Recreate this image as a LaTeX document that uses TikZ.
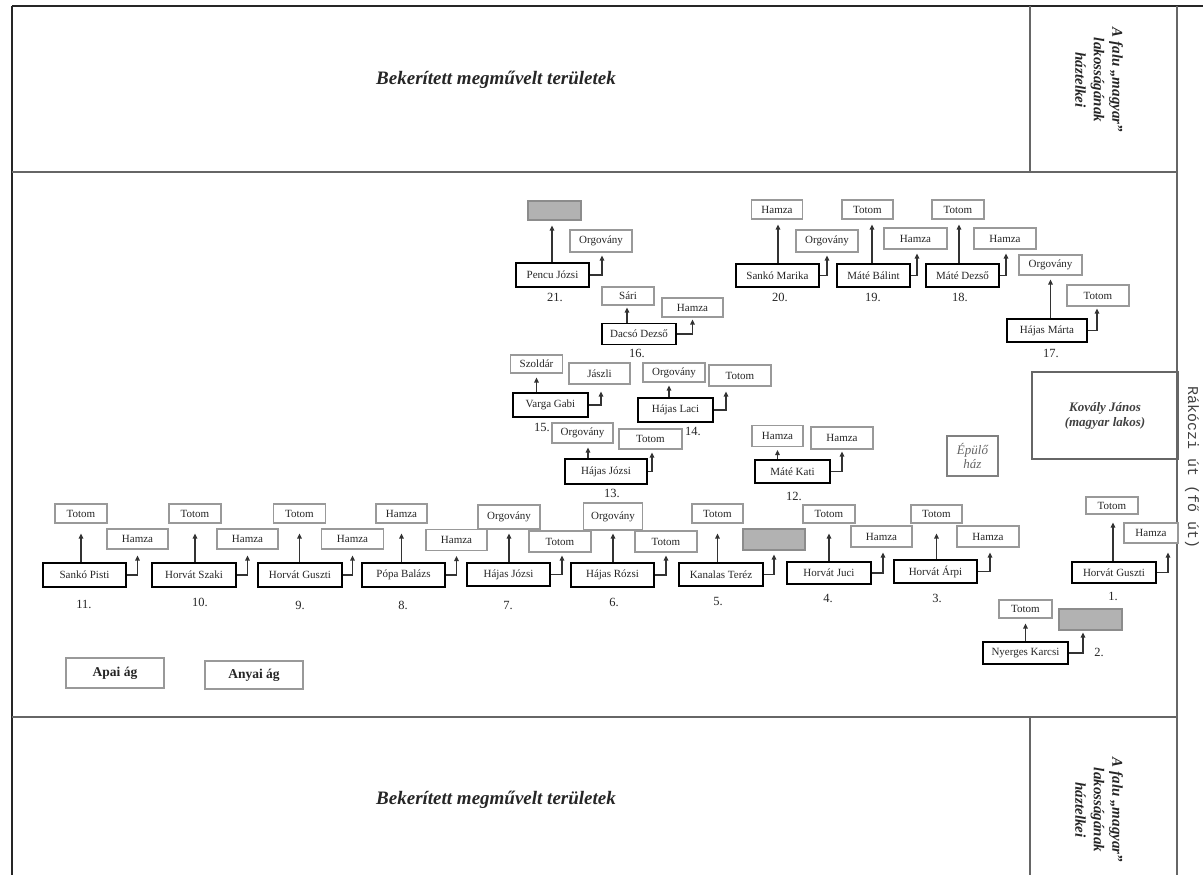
\documentclass[tikz,border=0pt]{standalone}
\usepackage{fontspec}
\setmainfont{Liberation Serif}
\newfontfamily\monof{Liberation Mono}
\usetikzlibrary{arrows.meta}
\newcommand\larr[4]{\path ([xshift=#3pt,yshift=-#4pt]#2.south) coordinate (tmp); \draw[arr] (#1.north -| tmp) -- (tmp);}
\newcommand\rarr[4]{\path ([xshift=#3pt,yshift=-#4pt]#2.south) coordinate (tmp); \draw[arr] (#1.east) -| (tmp);}
\begin{document}
\begin{tikzpicture}[x=1pt,y=-1pt,
 person/.style={draw=black, line width=1.9pt, fill=white, inner sep=0pt, minimum height=23pt, font=\fontsize{11}{12}\selectfont, text=black!85},
 kin/.style={draw=black!40, line width=1.1pt, fill=white, inner sep=0pt, minimum height=20pt, font=\fontsize{11}{12}\selectfont, text=black!85},
 hatchbox/.style={draw=black!45, line width=1.1pt, fill=black!30, inner sep=0pt, minimum height=20pt},
 num/.style={font=\fontsize{12.5}{14}\selectfont, text=black!85, inner sep=0pt},
 arr/.style={draw=black!80, line width=1.2pt, -{Triangle[length=5pt,width=4.5pt]}},
 frame/.style={draw=black!60, line width=1.4pt},
 band/.style={font=\bfseries\itshape\fontsize{19}{22}\selectfont, text=black!85},
 sidet/.style={font=\bfseries\itshape\fontsize{15}{18.5}\selectfont, text=black!85, align=center, rotate=-90},
 legend/.style={draw=black!40, line width=1.2pt, minimum width=98pt, inner sep=0pt, font=\bfseries\fontsize{13.5}{15}\selectfont, text=black!85},
]
\useasboundingbox (0,0) rectangle (1203,875);
\fill[white] (0,0) rectangle (1203,875);

% frame
\draw[line width=2.5pt, black!85] (12,6) -- (1203,6);
\draw[line width=2.5pt, black!85] (12,6) -- (12,875);
\draw[frame] (1177,6) -- (1177,875);
\draw[frame] (12,172) -- (1177,172);
\draw[frame] (1030,6) -- (1030,172);
\draw[frame, line width=2.2pt] (12,717) -- (1177,717);
\draw[frame] (1030,717) -- (1030,875);

\node[band] (field1) at (496,80) {Bekerített megművelt területek};
\node[band] (field2) at (496,800) {Bekerített megművelt területek};
\node[sidet] (side1) at (1099,80) {A falu „magyar”\\lakosságának\\háztelkei};
\node[sidet] (side2) at (1099,810) {A falu „magyar”\\lakosságának\\háztelkei};
\node[font=\monof\fontsize{15}{16}\selectfont, text=black!75, rotate=-90, anchor=base, inner sep=0pt] (road) at (1188,468) {Rákóczi út (fő út)};

% other boxes
\node[draw=black!50, line width=1.1pt, minimum width=51pt, minimum height=40pt, inner sep=0pt, align=center, font=\itshape\fontsize{13}{14}\selectfont, text=black!60] (epulo) at (972.5,456) {Épülő\\ház};
\node[draw=black!60, line width=1.2pt, minimum width=146pt, minimum height=87pt, align=center, font=\bfseries\itshape\fontsize{13}{15}\selectfont, text=black!75] (kovaly) at (1105,415.5) {Kovály János\\(magyar lakos)};
\node[legend, minimum height=30pt] (apai) at (115,673) {Apai ág};
\node[legend, minimum height=28pt] (anyai) at (254,675) {Anyai ág};

% 11
\node[person,minimum width=83pt,minimum height=24pt] (p11) at (84.5,575) {Sankó Pisti};
\node[kin,minimum width=52pt,minimum height=19pt] (l11) at (81,513.5) {Totom};
\node[kin,minimum width=61pt] (r11) at (137.5,539) {Hamza};
\node[num] (n11) at (84,604) {11.};
\larr{p11}{l11}{0}{10} \rarr{p11}{r11}{0}{6}
% 10
\node[person,minimum width=84pt,minimum height=24pt] (p10) at (194,575) {Horvát Szaki};
\node[kin,minimum width=52pt,minimum height=19pt] (l10) at (195,513.5) {Totom};
\node[kin,minimum width=61pt] (r10) at (247.5,539) {Hamza};
\node[num] (n10) at (200,602) {10.};
\larr{p10}{l10}{0}{10} \rarr{p10}{r10}{0}{6}
% 9
\node[person,minimum width=84pt,minimum height=24pt] (p9) at (300,575) {Horvát Guszti};
\node[kin,minimum width=52pt,minimum height=19pt] (l9) at (299.5,513.5) {Totom};
\node[kin,minimum width=62pt] (r9) at (352.5,539) {Hamza};
\node[num] (n9) at (300,605) {9.};
\larr{p9}{l9}{0}{10} \rarr{p9}{r9}{0}{6}
% 8
\node[person,minimum width=83pt,minimum height=24pt] (p8) at (403.5,575) {Pópa Balázs};
\node[kin,minimum width=51pt,minimum height=19pt] (l8) at (401.5,513.5) {Hamza};
\node[kin,minimum width=61pt,minimum height=21pt] (r8) at (456.5,540) {Hamza};
\node[num] (n8) at (403,605) {8.};
\larr{p8}{l8}{0}{10} \rarr{p8}{r8}{0}{5}
% 7
\node[person,minimum width=83pt,minimum height=23pt] (p7) at (508.5,574.5) {Hájas Józsi};
\node[kin,minimum width=62pt,minimum height=24pt] (l7) at (509,517) {Orgovány};
\node[kin,minimum width=62pt,minimum height=21pt] (r7) at (560,541.5) {Totom};
\node[num] (n7) at (508,605) {7.};
\larr{p7}{l7}{0}{4} \rarr{p7}{r7}{2}{3}
% 6
\node[person,minimum width=83pt,minimum height=24pt] (p6) at (612.5,575) {Hájas Rózsi};
\node[kin,minimum width=59pt,minimum height=27pt] (l6) at (613,516.5) {Orgovány};
\node[kin,minimum width=62pt,minimum height=21pt] (r6) at (666,541.5) {Totom};
\node[num] (n6) at (614,602) {6.};
\larr{p6}{l6}{0}{3} \rarr{p6}{r6}{0}{3}
% 5
\node[person,minimum width=84pt,minimum height=23pt] (p5) at (721,574.5) {Kanalas Teréz};
\node[kin,minimum width=51pt,minimum height=19pt] (l5) at (717.5,513.5) {Totom};
\node[hatchbox,minimum width=62pt,minimum height=21pt] (r5) at (774,539.5) {};
\node[num] (n5) at (718,601) {5.};
\larr{p5}{l5}{0}{10} \rarr{p5}{r5}{0}{4}
% 4
\node[person,minimum width=84pt,minimum height=22pt] (p4) at (829,573) {Horvát Juci};
\node[kin,minimum width=52pt,minimum height=18pt] (l4) at (829,514) {Totom};
\node[kin,minimum width=61pt,minimum height=21pt] (r4) at (881.5,536.5) {Hamza};
\node[num] (n4) at (828,598) {4.};
\larr{p4}{l4}{0}{10} \rarr{p4}{r4}{1.5}{5}
% 3
\node[person,minimum width=83pt,minimum height=23pt] (p3) at (935.5,571.5) {Horvát Árpi};
\node[kin,minimum width=51pt,minimum height=18pt] (l3) at (936.5,514) {Totom};
\node[kin,minimum width=62pt,minimum height=21pt] (r3) at (988,536.5) {Hamza};
\node[num] (n3) at (937,598) {3.};
\larr{p3}{l3}{0}{10} \rarr{p3}{r3}{2}{5}
% 1
\node[person,minimum width=84pt,minimum height=21pt] (p1) at (1114,572.5) {Horvát Guszti};
\node[kin,minimum width=52pt,minimum height=17pt] (l1) at (1112,505.5) {Totom};
\node[kin,minimum width=54pt,minimum height=20pt] (r1) at (1151,533) {Hamza};
\node[num] (n1) at (1113,596) {1.};
\larr{p1}{l1}{1}{8} \rarr{p1}{r1}{17}{9}
% 2
\node[person,minimum width=85pt,minimum height=22pt] (p2) at (1025.5,653) {Nyerges Karcsi};
\node[kin,minimum width=53pt,minimum height=18pt] (l2) at (1025.5,609) {Totom};
\node[hatchbox,minimum width=63pt,minimum height=21pt] (r2) at (1090.5,619.5) {};
\node[num] (n2) at (1099,652) {2.};
\larr{p2}{l2}{0}{5} \rarr{p2}{r2}{-7.5}{2}
% 12
\node[person,minimum width=75pt,minimum height=23pt] (p12) at (792.5,471.5) {Máté Kati};
\node[kin,minimum width=51pt,minimum height=21pt] (l12) at (777.5,436) {Hamza};
\node[kin,minimum width=62pt,minimum height=22pt] (r12) at (842,438) {Hamza};
\node[num] (n12) at (794,496) {12.};
\larr{p12}{l12}{0}{3} \rarr{p12}{r12}{0}{2}
% 13
\node[person,minimum width=82pt,minimum height=25pt] (p13) at (606,471.5) {Hájas Józsi};
\node[kin,minimum width=61pt,minimum height=20pt] (l13) at (582.5,433) {Orgovány};
\node[kin,minimum width=63pt,minimum height=20pt] (r13) at (650.5,439) {Totom};
\node[num] (n13) at (612,493) {13.};
\larr{p13}{l13}{5.5}{4} \rarr{p13}{r13}{1.5}{3}
% 14
\node[person,minimum width=75pt,minimum height=24pt] (p14) at (675.5,410) {Hájas Laci};
\node[kin,minimum width=62pt,minimum height=19pt] (l14) at (674,372.5) {Orgovány};
\node[kin,minimum width=62pt,minimum height=21pt] (r14) at (740,375.5) {Totom};
\node[num] (n14) at (693,431) {14.};
\larr{p14}{l14}{-5}{3} \rarr{p14}{r14}{-14}{5}
% 15
\node[person,minimum width=75pt,minimum height=24pt] (p15) at (550.5,405) {Varga Gabi};
\node[kin,minimum width=52pt,minimum height=18pt] (l15) at (536.5,364) {Szoldár};
\node[kin,minimum width=61pt,minimum height=21pt] (r15) at (599.5,373.5) {Jászli};
\node[num] (n15) at (542,427) {15.};
\larr{p15}{l15}{0}{4} \rarr{p15}{r15}{1.5}{7}
% 16
\node[person,minimum width=74pt,minimum height=21pt] (p16) at (639,334) {Dacsó Dezső};
\node[kin,minimum width=52pt,minimum height=18pt] (l16) at (628,296) {Sári};
\node[kin,minimum width=61pt,minimum height=19pt] (r16) at (692.5,307.5) {Hamza};
\node[num] (n16) at (637,353) {16.};
\larr{p16}{l16}{-1}{2} \rarr{p16}{r16}{0}{2}
% 17
\node[person,minimum width=80pt,minimum height=23pt] (p17) at (1047,330.5) {Hájas Márta};
\node[kin,minimum width=63pt,minimum height=20pt] (l17) at (1050.5,265) {Orgovány};
\node[kin,minimum width=62pt,minimum height=21pt] (r17) at (1098,295.5) {Totom};
\node[num] (n17) at (1051,353) {17.};
\larr{p17}{l17}{0}{4} \rarr{p17}{r17}{-1}{2}
% 18
\node[person,minimum width=73pt,minimum height=23pt] (p18) at (962.5,275.5) {Máté Dezső};
\node[kin,minimum width=52pt,minimum height=19pt] (l18) at (958,209.5) {Totom};
\node[kin,minimum width=62pt,minimum height=21pt] (r18) at (1005,238.5) {Hamza};
\node[num] (n18) at (960,297) {18.};
\larr{p18}{l18}{1}{5} \rarr{p18}{r18}{1}{4}
% 19
\node[person,minimum width=73pt,minimum height=23pt] (p19) at (873.5,275.5) {Máté Bálint};
\node[kin,minimum width=51pt,minimum height=19pt] (l19) at (867.5,209.5) {Totom};
\node[kin,minimum width=63pt,minimum height=21pt] (r19) at (915.5,238.5) {Hamza};
\node[num] (n19) at (873,297) {19.};
\larr{p19}{l19}{4.5}{5} \rarr{p19}{r19}{1.5}{4}
% 20
\node[person,minimum width=83pt,minimum height=23pt] (p20) at (777.5,275.5) {Sankó Marika};
\node[kin,minimum width=51pt,minimum height=19pt] (l20) at (777,209.5) {Hamza};
\node[kin,minimum width=62pt,minimum height=22pt] (r20) at (827,241) {Orgovány};
\node[num] (n20) at (780,297) {20.};
\larr{p20}{l20}{1}{5} \rarr{p20}{r20}{0}{3}
% 21
\node[person,minimum width=73pt,minimum height=24pt] (p21) at (552.5,275) {Pencu Józsi};
\node[hatchbox,minimum width=53pt,minimum height=19pt] (l21) at (554.5,210.5) {};
\node[kin,minimum width=62pt,minimum height=22pt] (r21) at (601,241) {Orgovány};
\node[num] (n21) at (555,297) {21.};
\larr{p21}{l21}{-2.5}{5} \rarr{p21}{r21}{1}{3}
\end{tikzpicture}
\end{document}
